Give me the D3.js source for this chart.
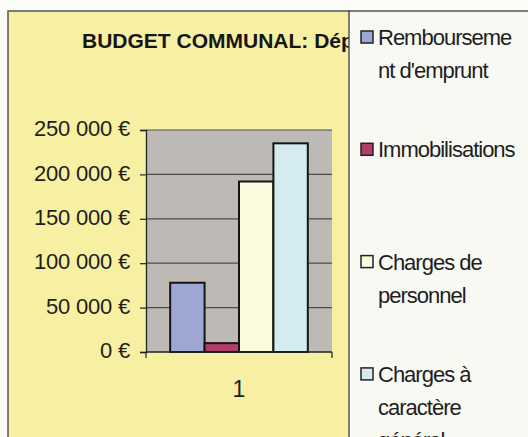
<!DOCTYPE html>
<html>
<head>
<meta charset="utf-8">
<script src="https://cdn.jsdelivr.net/npm/d3@7"></script>
<style>
  html, body { margin: 0; padding: 0; background: #fbfbf8; }
  svg { display: block; }
  text { font-family: "Liberation Sans", Arial, sans-serif; }
</style>
</head>
<body>
<svg id="chart" width="528" height="437"></svg>
<script>
// ---- data ----
const titleVisible = "BUDGET COMMUNAL: Dép";   // the part of the title visible in the picture
const categories = ["1"];
const seriesNames = ["Remboursement d'emprunt", "Immobilisations", "Charges de personnel", "Charges à caractère général"];
const legendLines = [["Rembourseme", "nt d'emprunt"], ["Immobilisations"], ["Charges de", "personnel"], ["Charges à", "caractère", "général"]];
const seriesValues = [78000, 10000, 192000, 235000];
const seriesColors = ["#9ea7d3", "#b13d69", "#fbfadd", "#d4ecef"];
const yTickValues = [0, 50000, 100000, 150000, 200000, 250000];
const yTickLabels = ["0 €", "50 000 €", "100 000 €", "150 000 €", "200 000 €", "250 000 €"];

// ---- drawing ----
const svg = d3.select("#chart");

svg.append("defs").append("clipPath").attr("id", "chartClip")
  .append("rect").attr("x", 0).attr("y", 0).attr("width", 349).attr("height", 437);

// chart area (yellow)
svg.append("rect").attr("x", 8).attr("y", 11).attr("width", 342).attr("height", 440)
  .attr("fill", "#f7f0a2").attr("stroke", "#555").attr("stroke-width", 1.5);

// title (clipped by legend box)
svg.append("text").attr("x", 82).attr("y", 48).attr("clip-path", "url(#chartClip)")
  .attr("font-size", 21).attr("font-weight", "bold").attr("letter-spacing", 0)
  .attr("fill", "#161616").text(titleVisible);

const plotLeft = 146, plotRight = 332, plotTop = 130, plotBottom = 352;

const y = d3.scaleLinear().domain([0, 250000]).range([plotBottom, plotTop]);
const x = d3.scaleBand().domain(categories).range([plotLeft, plotRight]).paddingInner(0).paddingOuter(0);
const xs = d3.scaleBand().domain(seriesNames)
  .range([x(categories[0]) + x.bandwidth() * 0.13, x(categories[0]) + x.bandwidth() * 0.87]);

// plot background
svg.append("rect").attr("x", plotLeft).attr("y", plotTop)
  .attr("width", plotRight - plotLeft).attr("height", plotBottom - plotTop)
  .attr("fill", "#bdbab6");

// gridlines
svg.append("g").selectAll("line").data(yTickValues.filter(v => v > 0)).join("line")
  .attr("x1", plotLeft).attr("x2", plotRight)
  .attr("y1", d => y(d)).attr("y2", d => y(d))
  .attr("stroke", "#4d4d4d").attr("stroke-width", 1.2);

// bars
svg.append("g").selectAll("rect").data(seriesValues).join("rect")
  .attr("x", (d, i) => xs(seriesNames[i]))
  .attr("y", d => y(d))
  .attr("width", xs.bandwidth())
  .attr("height", d => y(0) - y(d))
  .attr("fill", (d, i) => seriesColors[i])
  .attr("stroke", "#151515").attr("stroke-width", 2);

// y axis
const yAxis = d3.axisLeft(y).tickValues(yTickValues)
  .tickFormat((d, i) => yTickLabels[i]).tickSize(6).tickPadding(10);
const gy = svg.append("g").attr("transform", `translate(${plotLeft},0)`).call(yAxis);
gy.select(".domain").attr("stroke", "#222").attr("stroke-width", 1.3);
gy.selectAll(".tick line").attr("stroke", "#222").attr("stroke-width", 1.2);
gy.selectAll(".tick text").attr("font-size", 22).attr("fill", "#1e1e1e")
  .attr("letter-spacing", -0.2).attr("dy", "0.26em")
  .attr("font-family", "Liberation Sans, Arial, sans-serif");

// x axis (Excel-style: ticks at category boundaries)
const gx = svg.append("g");
gx.append("line").attr("x1", plotLeft).attr("x2", plotRight)
  .attr("y1", y(0)).attr("y2", y(0)).attr("stroke", "#222").attr("stroke-width", 1.3);
const edges = [x(categories[0]), x(categories[0]) + x.bandwidth()];
gx.selectAll("line.tk").data(edges).join("line").attr("class", "tk")
  .attr("x1", d => d).attr("x2", d => d)
  .attr("y1", y(0)).attr("y2", y(0) + 6).attr("stroke", "#222").attr("stroke-width", 1.2);
gx.selectAll("text").data(categories).join("text")
  .attr("x", d => x(d) + x.bandwidth() / 2).attr("y", y(0) + 45)
  .attr("text-anchor", "middle").attr("font-size", 23).attr("fill", "#1e1e1e").text(d => d);

// legend box
svg.append("rect").attr("x", 349).attr("y", 11).attr("width", 190).attr("height", 440)
  .attr("fill", "#f9f9f4").attr("stroke", "#555").attr("stroke-width", 1.5);

const leg = svg.append("g");
const entryStep = 112.3, firstBaseline = 45, lineH = 33;
seriesNames.forEach((name, i) => {
  const b = firstBaseline + i * entryStep;
  leg.append("rect").attr("x", 361).attr("y", b - 14).attr("width", 12).attr("height", 12)
    .attr("fill", seriesColors[i]).attr("stroke", "#222").attr("stroke-width", 1.5);
  const t = leg.append("text").attr("x", 378).attr("y", b)
    .attr("font-size", 22).attr("letter-spacing", -1).attr("fill", "#1e1e1e");
  legendLines[i].forEach((ln, j) => {
    t.append("tspan").attr("x", 378).attr("y", b + j * lineH).text(ln);
  });
});
</script>
</body>
</html>
